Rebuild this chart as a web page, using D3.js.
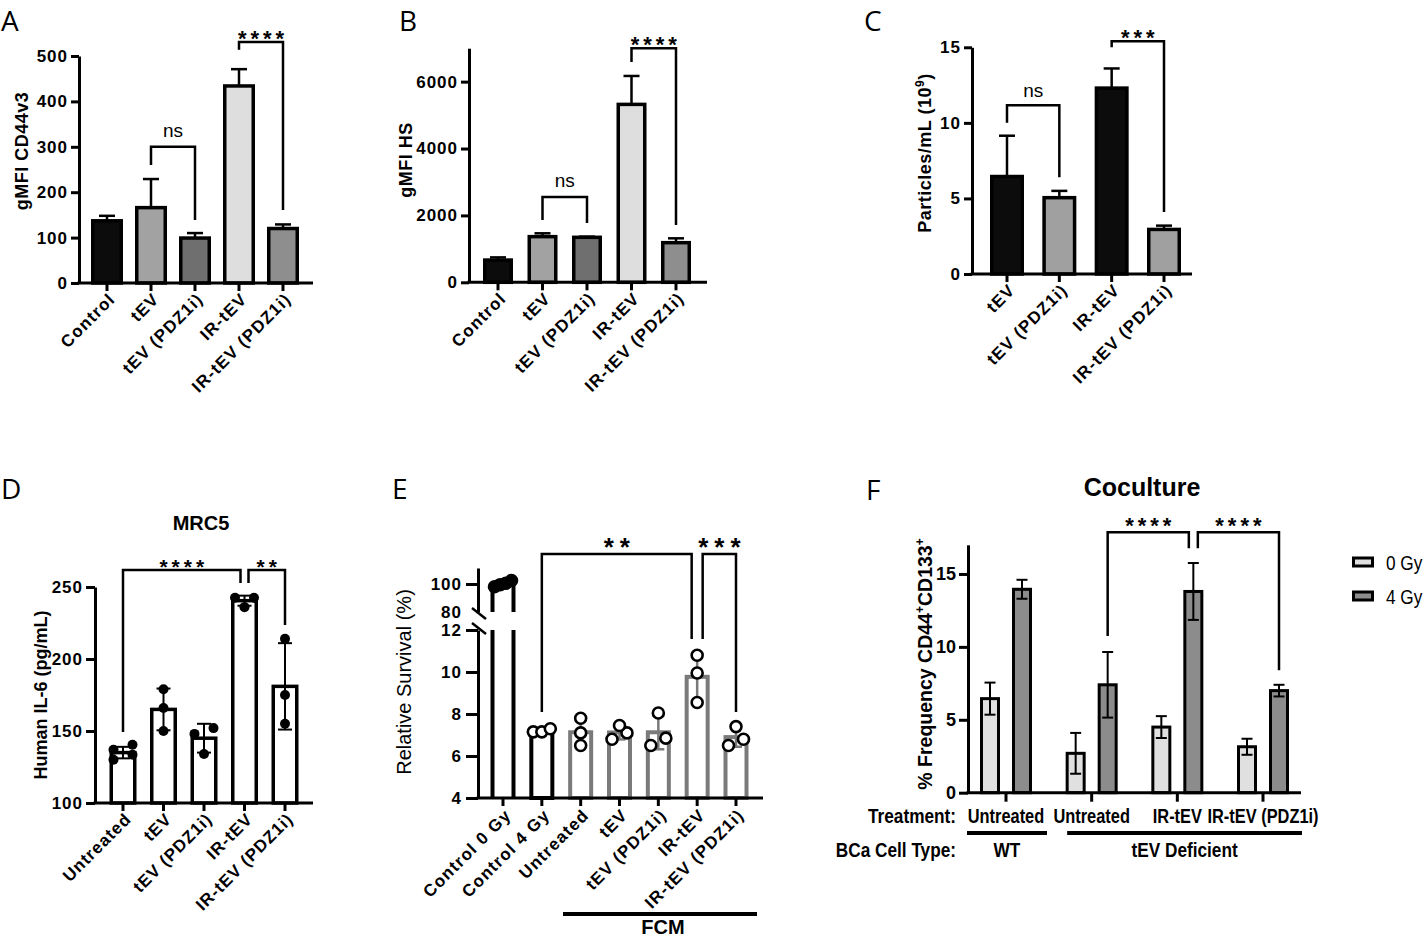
<!DOCTYPE html>
<html><head><meta charset="utf-8">
<script src="https://cdn.jsdelivr.net/npm/d3@7"></script>
<style>
body{margin:0;background:#fff;}
svg{display:block;}
</style></head><body>
<script>
// ---------------- DATA ----------------
// Panel A
const catsA = ["Control","tEV","tEV (PDZ1i)","IR-tEV","IR-tEV (PDZ1i)"];
const gmfiCD44v3 = [137, 166, 99, 434, 120];
const gmfiCD44v3Err = [11, 63, 11, 37, 9];
const ticksA = [0,100,200,300,400,500];
const sigA = [
  {a:1, b:2, label:"ns",   top:300, la:260, lb:139},
  {a:3, b:4, label:"****", top:531, la:514, lb:161}
];
// Panel B
const catsB = ["Control","tEV","tEV (PDZ1i)","IR-tEV","IR-tEV (PDZ1i)"];
const gmfiHS = [665, 1365, 1345, 5320, 1185];
const gmfiHSErr = [80, 100, 20, 850, 130];
const ticksB = [0,2000,4000,6000];
const sigB = [
  {a:1, b:2, label:"ns",   top:2550, la:1860, lb:1770},
  {a:3, b:4, label:"****", top:7000, la:6590, lb:1710}
];
// Panel C
const catsC = ["tEV","tEV (PDZ1i)","IR-tEV","IR-tEV (PDZ1i)"];
const particles = [6.45, 5.05, 12.3, 2.95];
const particlesErr = [2.7, 0.45, 1.3, 0.25];
const ticksC = [0,5,10,15];
const sigC = [
  {a:0, b:1, label:"ns",  top:11.17, la:10.0, lb:6.4},
  {a:2, b:3, label:"***", top:15.4,  la:15.0, lb:4.1}
];
// Panel D
const catsD = ["Untreated","tEV","tEV (PDZ1i)","IR-tEV","IR-tEV (PDZ1i)"];
const il6Points = [[130,133.5,137,140.5],[150,166,179],[134,148,152],[236,242.5,242.5],[155,175,214]];
const il6Mean = [135, 165, 145, 240.5, 181];
const il6SD = [4, 14.5, 10, 3.5, 30];
const ticksD = [100,150,200,250];
const sigD = [
  {a:0, b:3, label:"****", top:261.8, la:149.3, lb:252.8},
  {a:3, b:4, label:"**",   top:261.8, la:252.8, lb:223.6}
];
// Panel E
const catsE = ["Control 0 Gy","Control 4 Gy","Untreated","tEV","tEV (PDZ1i)","IR-tEV","IR-tEV (PDZ1i)"];
const survPoints = [[98,99.5,100.5,102.5],[7.15,7.15,7.3],[6.5,7.1,7.8],[6.8,7.1,7.45],[6.5,6.85,8.05],[8.55,9.95,10.8],[6.5,6.8,7.4]];
const survMean = [100, 7.2, 7.13, 7.12, 7.13, 9.77, 6.9];
const survSD = [1.8, 0.1, 0.65, 0.33, 0.81, 1.14, 0.46];
const ticksELow = [4,6,8,10,12];
const ticksEHigh = [80,100];
const sigE = [
  {a:1, b:5, label:"**",  top:121.4, la:8.1,   lb:11.57},
  {a:5, b:6, label:"***", top:121.4, la:11.57, lb:8.1}
];
const fcmLabel = "FCM";
// Panel F
const treatF = ["Untreated","Untreated","IR-tEV","IR-tEV (PDZ1i)"];
const cellTypeF = ["WT","tEV Deficient"];
const cellTypeGroups = [[0,0],[1,3]];
const doseF = ["0 Gy","4 Gy"];
const freq0Gy = [6.45, 2.7, 4.5, 3.15];
const freq0GyErr = [1.1, 1.4, 0.75, 0.55];
const freq4Gy = [13.95, 7.4, 13.8, 7.0];
const freq4GyErr = [0.65, 2.25, 1.95, 0.4];
const ticksF = [0,5,10,15];
const sigF = [
  {a:[1,1], b:[2,1], label:"****", top:17.86, la:10.75, lb:16.76},
  {a:[2,1], b:[3,1], label:"****", top:17.86, la:16.76, lb:8.4}
];

// ---------------- STYLE ----------------
const FONT = '"Liberation Sans", Arial, Helvetica, sans-serif';
const LETTER = '"Open Sans", "Noto Sans", sans-serif';
const fillsAB = ["#0c0c0c","#a2a2a2","#6f6f6f","#dedede","#8e8e8e"];
const fillsC = ["#0c0c0c","#a0a0a0","#0c0c0c","#a0a0a0"];
const doseFill = ["#e0e0e0","#8c8c8c"];
const grayE = "#7a7a7a";

const svg = d3.select("body").append("svg").attr("width",1427).attr("height",938);

function addText(g, s, x, y, o={}) {
  const t = g.append("text").attr("x",x).attr("y",y).text(s)
    .attr("font-family", o.family||FONT).attr("font-size", o.size||17)
    .attr("font-weight", o.weight||"bold").attr("text-anchor", o.anchor||"middle").attr("fill", "#000");
  if (o.ls) t.attr("letter-spacing", o.ls);
  if (o.dx) t.attr("dx", o.dx);
  if (o.dy) t.attr("dy", o.dy);
  if (o.rotate!=null) t.attr("transform", `rotate(${o.rotate},${x},${y})`);
  return t;
}
// condensed text: horizontally compressed regular font
function narrowText(g, s, x, y, o={}) {
  return g.append("text").attr("x",0).attr("y",0).text(s)
    .attr("transform",`translate(${x},${y}) scale(${o.sx||0.82},1)`)
    .attr("font-family", FONT).attr("font-size", o.size||20)
    .attr("font-weight", o.weight||"bold").attr("text-anchor", o.anchor||"middle").attr("fill","#000");
}
function line(g,x1,y1,x2,y2,w,col){
  return g.append("line").attr("x1",x1).attr("y1",y1).attr("x2",x2).attr("y2",y2)
   .attr("stroke",col||"#000").attr("stroke-width",w);
}
function yAxisLeft(g, scale, ticks, x, o) {
  const ax = d3.axisLeft(scale).tickValues(ticks).tickSize(o.tick||8).tickPadding(o.pad||3)
     .tickSizeOuter(0).tickFormat(o.fmt||d3.format("d"));
  const a = g.append("g").attr("transform",`translate(${x},0)`).call(ax);
  a.attr("font-family", o.family||FONT).attr("font-size", o.size||17).attr("font-weight", o.weight||"bold");
  a.select(".domain").attr("stroke","#000").attr("stroke-width",o.lw||3);
  a.selectAll(".tick line").attr("stroke","#000").attr("stroke-width",o.lw||3);
  a.selectAll(".tick text").attr("fill","#000").attr("letter-spacing", o.ls||0);
  return a;
}
function bracket(g, xa, xb, yTop, ya, yb, w){
  g.append("path").attr("d",`M${xa},${ya}V${yTop}H${xb}V${yb}`)
   .attr("fill","none").attr("stroke","#000").attr("stroke-width",w||2.5);
}
function sigText(g, label, x, yTop, o){
  if (label === "ns") addText(g, "ns", x, yTop - (o.nsOff||10), {size:19, weight:"normal"});
  else addText(g, label, x, yTop + (o.astOff||4), {size:o.astSize||22, weight:"bold", ls:o.ls||4, dx:(o.ls||4)/2});
}
function catLabels(g, cats, x, y0, o){
  cats.forEach(c => {
    const px = x(c) + (o.ox||5), py = y0 + (o.oy||13);
    addText(g, c, px, py, {size:o.size||17, anchor:"end", rotate:-45, ls:o.ls||1.2, dy:"0.35em"});
  });
}
function xTicks(g, xs, y0, len, w){ xs.forEach(px => line(g, px, y0, px, y0+len, w)); }
function jitter(vals, yf, thr, spacing, maxSpread){
  const idx = vals.map((v,i)=>i).sort((p,q)=>vals[p]-vals[q]);
  const off = vals.map(()=>0);
  let cl = [], start = null;
  const flush = () => {
    const k = cl.length;
    const sp = k>1 ? Math.min(spacing, maxSpread/(k-1)) : 0;
    cl.forEach((ii,j)=> off[ii] = (j-(k-1)/2)*sp);
    cl = [];
  };
  idx.forEach(i => {
    const py = yf(vals[i]);
    if (cl.length && Math.abs(py-start) > thr) flush();
    if (!cl.length) start = py;
    cl.push(i);
  });
  flush();
  return off;
}
function endpointUses(sig, key){
  const u = {};
  sig.forEach(s => { [key(s.a), key(s.b)].forEach(k => u[k]=(u[k]||0)+1); });
  return u;
}
function panelLetter(s, x, y){
  addText(svg, s, x, y, {size:28, weight:"normal", family:LETTER, anchor:"start"});
}

// ---------------- Panels A, B, C ----------------
function simpleBars(c){
  const g = svg.append("g");
  const x = d3.scalePoint().domain(c.cats).range(c.centers);
  const y = d3.scaleLinear().domain(c.yDomain).range([c.yBottom, c.yTop]);
  c.cats.forEach((cat,i) => {
    const cx = x(cat), top = y(c.vals[i]+c.errs[i]);
    line(g, cx, y(c.vals[i]), cx, top, 2.5);
    line(g, cx-c.cap/2, top, cx+c.cap/2, top, 2.5);
  });
  g.selectAll("rect.bar").data(c.vals).join("rect").attr("class","bar")
    .attr("x",(d,i)=>x(c.cats[i]) - (c.barW - c.sw)/2).attr("width", c.barW - c.sw)
    .attr("y", d=>y(d)).attr("height", d=>c.yBottom - y(d))
    .attr("fill",(d,i)=>c.fills[i]).attr("stroke","#000").attr("stroke-width",c.sw);
  yAxisLeft(g, y, c.ticks, c.x0, {tick:8, pad:3, size:17, ls:1});
  line(g, c.x0-1.5, c.yBottom, c.x1, c.yBottom, 3);
  xTicks(g, c.cats.map(x), c.yBottom, 8, 3);
  catLabels(g, c.cats, x, c.yBottom, {size:17, ls:1.2, ox:5, oy:13});
  c.sig.forEach(s => {
    const xa = x(c.cats[s.a]), xb = x(c.cats[s.b]);
    bracket(g, xa, xb, y(s.top), y(s.la), y(s.lb), 2.5);
    sigText(g, s.label, (xa+xb)/2, y(s.top), {nsOff:c.nsOff||10});
  });
  const t = addText(g, "", c.labelX, c.labelY, {size:18, rotate:-90, ls:0.5, dy:"0.35em"});
  c.labelParts.forEach(p => {
    const ts = t.append("tspan").text(p.t);
    if (p.sup) ts.attr("font-size", 12).attr("dy", -7);
    if (p.after) ts.attr("dy", 7);
  });
  panelLetter(c.letter, c.letterX, c.letterY);
}

simpleBars({cats:catsA, vals:gmfiCD44v3, errs:gmfiCD44v3Err, ticks:ticksA, yDomain:[0,500],
  yBottom:283, yTop:56, x0:79, x1:313, centers:[107,283], barW:32, sw:3.5, cap:16, fills:fillsAB,
  sig:sigA, labelX:22, labelY:151, labelParts:[{t:"gMFI CD44v3"}], letter:"A", letterX:1, letterY:31});
simpleBars({cats:catsB, vals:gmfiHS, errs:gmfiHSErr, ticks:ticksB, yDomain:[0,7000],
  yBottom:282.3, yTop:48.2, x0:469, x1:707, centers:[498,676], barW:30, sw:3.5, cap:16, fills:fillsAB,
  sig:sigB, labelX:406, labelY:160, labelParts:[{t:"gMFI HS"}], letter:"B", letterX:399, letterY:31});
simpleBars({cats:catsC, vals:particles, errs:particlesErr, ticks:ticksC, yDomain:[0,15],
  yBottom:274, yTop:47.3, x0:972, x1:1192, centers:[1007,1164], barW:34, sw:3.5, cap:16, fills:fillsC,
  sig:sigC, nsOff:8, labelX:925, labelY:153,
  labelParts:[{t:"Particles/mL (10"},{t:"9", sup:true},{t:")", after:true}], letter:"C", letterX:864, letterY:31});

// ---------------- Panel D ----------------
(function(){
  const g = svg.append("g");
  const x = d3.scalePoint().domain(catsD).range([123,285]);
  const y = d3.scaleLinear().domain([100,250]).range([803,587]);
  const bw = 27, sw = 3.5, r = 5;
  g.selectAll("rect.bar").data(il6Mean).join("rect").attr("class","bar")
    .attr("x",(d,i)=>x(catsD[i])-(bw-sw)/2).attr("width",bw-sw)
    .attr("y",d=>y(d)).attr("height",d=>803-y(d))
    .attr("fill","#fff").attr("stroke","#000").attr("stroke-width",sw);
  catsD.forEach((c,i)=>{
    const cx = x(c), lo = y(il6Mean[i]-il6SD[i]), hi = y(il6Mean[i]+il6SD[i]);
    line(g, cx, lo, cx, hi, 2);
    line(g, cx-7, lo, cx+7, lo, 2);
    line(g, cx-7, hi, cx+7, hi, 2);
    const off = jitter(il6Points[i], y, 8.8, 19, 19);
    g.selectAll(null).data(il6Points[i]).join("circle")
      .attr("cx",(d,j)=>cx+off[j]).attr("cy",d=>y(d)).attr("r",r).attr("fill","#000");
  });
  yAxisLeft(g, y, ticksD, 95, {tick:9, pad:3, size:17, ls:1});
  line(g, 93.5, 803, 313, 803, 3);
  xTicks(g, catsD.map(x), 803, 8, 3);
  catLabels(g, catsD, x, 803, {size:17, ls:1, ox:5, oy:13});
  const uses = endpointUses(sigD, k=>k);
  sigD.forEach(s=>{
    const xa = x(catsD[s.a]) + (uses[s.a]>1?4:0), xb = x(catsD[s.b]) - (uses[s.b]>1?4:0);
    bracket(g, xa, xb, y(s.top), y(s.la), y(s.lb), 2.5);
    sigText(g, s.label, (xa+xb)/2, y(s.top), {astSize:21, ls:4});
  });
  addText(g, "MRC5", 201, 530, {size:20});
  addText(g, "Human IL-6 (pg/mL)", 41, 695, {size:18, rotate:-90, dy:"0.35em"});
  panelLetter("D", 1, 499);
})();

// ---------------- Panel E ----------------
(function(){
  const g = svg.append("g");
  const x = d3.scalePoint().domain(catsE).range([503,736]);
  const yLow = d3.scaleLinear().domain([4,12]).range([798,630]);
  const yHigh = d3.scaleLinear().domain([80,111.4]).range([612,568]);
  const yE = v => v >= 50 ? yHigh(v) : yLow(v);
  const bw = 25, sw = 4, r = 5.5;
  catsE.forEach((c,i)=>{
    const cx = x(c), col = i<2 ? "#000" : grayE;
    const l = cx-(bw-sw)/2, rr = cx+(bw-sw)/2;
    if (survMean[i] >= 50) {
      g.append("path").attr("d",`M${l},${yHigh(80)}V${yHigh(survMean[i])}H${rr}V${yHigh(80)}`)
        .attr("fill","#fff").attr("stroke",col).attr("stroke-width",sw);
      g.append("path").attr("d",`M${l},${yLow(12)}V798M${rr},${yLow(12)}V798`)
        .attr("fill","none").attr("stroke",col).attr("stroke-width",sw);
    } else {
      g.append("rect").attr("x",l).attr("width",bw-sw).attr("y",yE(survMean[i]))
        .attr("height",798-yE(survMean[i])).attr("fill","#fff").attr("stroke",col).attr("stroke-width",sw);
    }
    const lo = yE(survMean[i]-survSD[i]), hi = yE(survMean[i]+survSD[i]);
    line(g, cx, lo, cx, hi, 2.5, col);
    line(g, cx-6, lo, cx+6, lo, 2.5, col);
    line(g, cx-6, hi, cx+6, hi, 2.5, col);
    const off = jitter(survPoints[i], yE, 8.8, 15, 17);
    g.selectAll(null).data(survPoints[i]).join("circle")
      .attr("cx",(d,j)=>cx+off[j]).attr("cy",d=>yE(d)).attr("r",r)
      .attr("fill", survMean[i] >= 50 ? "#000" : "#fff").attr("stroke","#000").attr("stroke-width",2.6);
  });
  yAxisLeft(g, yLow, ticksELow, 478, {tick:12, pad:4, size:17, ls:1});
  const up = yAxisLeft(g, yHigh, ticksEHigh, 478, {tick:12, pad:4, size:17, ls:1});
  up.selectAll(".tick").filter(d=>d===80).select("line").remove();
  [yHigh(80)+1.5, yLow(12)-1.5].forEach(py => line(g, 472, py-5.5, 486, py+5.5, 2.5));
  line(g, 476.5, 798, 763, 798, 3);
  xTicks(g, catsE.map(x), 798, 8, 3);
  catLabels(g, catsE, x, 798, {size:17, ls:1.2, ox:5, oy:14});
  const uses = endpointUses(sigE, k=>k);
  sigE.forEach(s=>{
    const xa = x(catsE[s.a]) + (uses[s.a]>1?5.5:0), xb = x(catsE[s.b]) - (uses[s.b]>1?5.5:0);
    bracket(g, xa, xb, yE(s.top), yE(s.la), yE(s.lb), 2.5);
    sigText(g, s.label, (xa+xb)/2, yE(s.top), {astSize:26, ls:6, astOff:2});
  });
  line(g, 563, 914, 757, 914, 4);
  addText(g, fcmLabel, 663, 934, {size:20});
  addText(g, "Relative Survival (%)", 404, 682, {size:20, weight:"normal", rotate:-90, dy:"0.35em"});
  panelLetter("E", 392, 499);
})();

// ---------------- Panel F ----------------
(function(){
  const g = svg.append("g");
  const xg = d3.scalePoint().domain(d3.range(treatF.length)).range([1006,1263]);
  const xd = d3.scaleBand().domain(doseF).range([-32,32]).paddingInner(0.375).paddingOuter(0.1875);
  const y = d3.scaleLinear().domain([0,17]).range([792.7,544.8]);
  const vals = [freq0Gy, freq4Gy], errs = [freq0GyErr, freq4GyErr];
  const sw = 3, bw = xd.bandwidth();
  const bx = (gi,di) => xg(gi) + xd(doseF[di]) + bw/2;
  treatF.forEach((t,gi)=>{
    doseF.forEach((d,di)=>{
      const cx = bx(gi,di), v = vals[di][gi], e = errs[di][gi];
      g.append("rect").attr("x",cx-(bw-sw)/2).attr("width",bw-sw).attr("y",y(v)).attr("height",792.7-y(v))
        .attr("fill",doseFill[di]).attr("stroke","#000").attr("stroke-width",sw);
      const lo = y(v-e), hi = y(v+e);
      line(g, cx, lo, cx, hi, 2);
      line(g, cx-5.5, lo, cx+5.5, lo, 2);
      line(g, cx-5.5, hi, cx+5.5, hi, 2);
    });
  });
  yAxisLeft(g, y, ticksF, 968, {tick:9, pad:3, size:18, weight:"bold"});
  line(g, 966.5, 792.7, 1301, 792.7, 3);
  xTicks(g, treatF.map((t,i)=>xg(i)), 792.7, 9, 3);
  const key = k => k[0]+"-"+k[1];
  const uses = endpointUses(sigF, key);
  sigF.forEach(s=>{
    const xa = bx(s.a[0],s.a[1]) + (uses[key(s.a)]>1?4.5:0);
    const xb = bx(s.b[0],s.b[1]) - (uses[key(s.b)]>1?4.5:0);
    bracket(g, xa, xb, y(s.top), y(s.la), y(s.lb), 2.5);
    sigText(g, s.label, (xa+xb)/2, y(s.top), {astSize:22, ls:4, astOff:1});
  });
  addText(g, "Coculture", 1142, 496, {size:25});
  const yl = addText(g, "", 925, 664, {size:19.5, rotate:-90, dy:"0.35em"});
  yl.append("tspan").text("% Frequency CD44");
  yl.append("tspan").text("+").attr("font-size",12).attr("dy",-8);
  yl.append("tspan").text("CD133").attr("dy",8);
  yl.append("tspan").text("+").attr("font-size",12).attr("dy",-8);
  // treatment row
  narrowText(g, "Treatment:", 956, 823, {size:21, anchor:"end"});
  treatF.forEach((t,i)=> narrowText(g, t, xg(i), 823, {size:20}));
  const pads = [[39,41],[24.5,39]];
  cellTypeF.forEach((c,k)=>{
    const x1 = xg(cellTypeGroups[k][0]) - pads[k][0], x2 = xg(cellTypeGroups[k][1]) + pads[k][1];
    line(g, x1, 833, x2, 833, 4);
    narrowText(g, c, (x1+x2)/2, 857, {size:21});
  });
  narrowText(g, "BCa Cell Type:", 956, 857, {size:21, anchor:"end"});
  // legend
  doseF.forEach((d,i)=>{
    const cy = 562 + i*34;
    g.append("rect").attr("x",1353.5).attr("y",cy-4).attr("width",19).attr("height",8)
      .attr("fill",doseFill[i]).attr("stroke","#000").attr("stroke-width",3);
    narrowText(g, d, 1386, cy+7.5, {size:21, weight:"normal", anchor:"start"});
  });
  panelLetter("F", 866, 500);
})();
</script>
</body></html>
